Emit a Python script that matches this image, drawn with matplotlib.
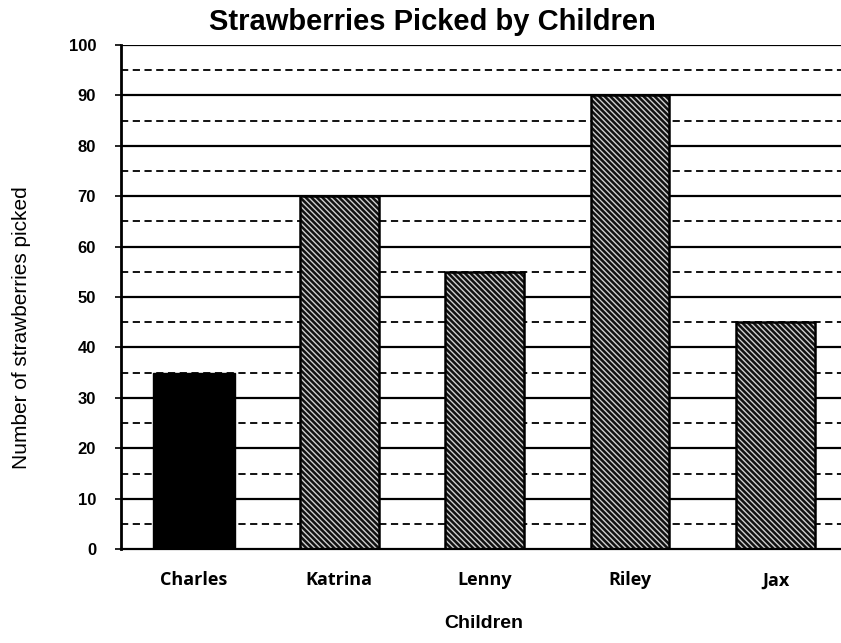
import matplotlib
matplotlib.use("Agg")
import matplotlib.pyplot as plt
import numpy as np

children = ["Charles", "Katrina", "Lenny", "Riley", "Jax"]
picked = [35, 70, 55, 90, 45]
y_ticks = [0, 10, 20, 30, 40, 50, 60, 70, 80, 90, 100]
minor_lines = [5, 15, 25, 35, 45, 55, 65, 75, 85, 95]

plt.rcParams['font.family'] = ['Liberation Sans', 'DejaVu Sans']
plt.rcParams['hatch.linewidth'] = 1.0

fig = plt.figure(figsize=(8.41, 6.43), dpi=100)
ax = fig.add_axes([0.144, 0.146, 0.856, 0.784])

x = np.arange(len(children))

# grid lines: solid at tens, dashed at fives
for v in y_ticks[1:]:
	ax.axhline(v, color="black", lw=1.6, zorder=1)
for v in minor_lines:
	ax.axhline(v, color="black", lw=1.3, ls=(0, (4, 2.5)), zorder=1)

# first bar is solid black, the others are hatched
for i in range(len(children)):
	if i == 0:
		ax.bar(x[i], picked[i], width=0.56, color="black", edgecolor="black", zorder=2)
	else:
		ax.bar(x[i], picked[i], width=0.54, color="#111111", edgecolor="#cfcfcf",
			hatch="\\\\\\\\\\\\", lw=0, zorder=2)
		ax.bar(x[i], picked[i], width=0.54, fill=False, edgecolor="black", lw=1.8, zorder=3)

ax.set_xlim(-0.5, 4.45)
ax.set_ylim(0, 100)
ax.set_yticks(y_ticks)
ax.set_yticklabels([str(v) for v in y_ticks], fontweight="bold", fontsize=12)
ax.set_xticks(x)
ax.set_xticklabels(children, fontweight="bold", fontsize=13, family=["Open Sans", "DejaVu Sans"])
ax.tick_params(axis="x", length=0, pad=16)
ax.tick_params(axis="y", length=4, width=1.2, pad=14)

for s in ["top", "right"]:
	ax.spines[s].set_visible(False)
ax.spines["left"].set_linewidth(2)
ax.spines["bottom"].set_linewidth(1.6)

fig.text(432/841, 1 - 22/643, "Strawberries Picked by Children", ha="center", va="center",
	fontsize=21, fontweight="bold")
fig.text(22/841, 1 - 328/643, "Number of strawberries picked", rotation=90,
	ha="center", va="center", fontsize=15)
fig.text(484/841, 1 - 624/643, "Children", ha="center", va="center", fontsize=14, fontweight="bold")

fig.savefig("out.png", dpi=100)
